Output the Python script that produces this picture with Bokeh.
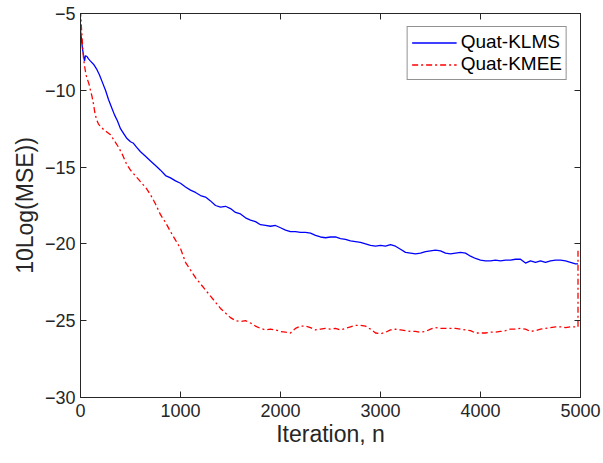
from bokeh.plotting import figure
from bokeh.models import LinearAxis, FixedTicker, Legend, LegendItem
from bokeh.embed import file_html
from bokeh.resources import INLINE

# ---- data ----
klms_n = [0, 10, 20, 30, 40, 50, 65, 80, 100, 130, 160, 190, 220, 250, 280, 310, 340, 370, 400,
          430, 460, 500, 530, 560, 600, 650, 700, 750, 800, 850, 900, 950, 1000, 1050, 1100, 1150,
          1200, 1250, 1300, 1350, 1400, 1450, 1500, 1550, 1600, 1650, 1700, 1750, 1800, 1850, 1900,
          1950, 2000, 2050, 2100, 2150, 2200, 2250, 2300, 2350, 2400, 2450, 2500, 2550, 2600, 2650,
          2700, 2750, 2800, 2850, 2900, 2950, 3000, 3050, 3100, 3150, 3200, 3250, 3300, 3350, 3400,
          3450, 3500, 3550, 3600, 3650, 3700, 3750, 3800, 3850, 3900, 3950, 4000, 4050, 4100, 4150,
          4200, 4250, 4300, 4350, 4400, 4450, 4500, 4550, 4600, 4650, 4700, 4750, 4800, 4850, 4900,
          4950, 4975]
klms_db = [-6.1, -6.7, -7.3, -7.7, -8.1, -7.75, -7.8, -7.95, -8.1, -8.3, -8.6, -9.0, -9.5, -10.0,
           -10.6, -11.1, -11.6, -12.0, -12.5, -12.8, -13.1, -13.35, -13.45, -13.7, -14.0, -14.3,
           -14.6, -14.9, -15.2, -15.55, -15.7, -15.9, -16.05, -16.3, -16.5, -16.65, -16.85, -16.95,
           -17.2, -17.5, -17.6, -17.55, -17.7, -17.95, -18.05, -18.3, -18.45, -18.55, -18.75, -18.8,
           -18.85, -18.8, -18.95, -19.1, -19.2, -19.2, -19.25, -19.25, -19.3, -19.45, -19.55, -19.6,
           -19.55, -19.55, -19.65, -19.7, -19.8, -19.85, -19.9, -20.0, -20.1, -20.15, -20.1, -20.15,
           -20.05, -20.15, -20.35, -20.55, -20.6, -20.65, -20.6, -20.5, -20.45, -20.4, -20.45, -20.6,
           -20.65, -20.6, -20.55, -20.6, -20.8, -20.95, -21.05, -21.1, -21.1, -21.05, -21.1, -21.05,
           -21.05, -21.0, -21.0, -21.25, -21.1, -21.2, -21.1, -21.2, -21.1, -21.05, -21.05, -21.1,
           -21.2, -21.3, -21.3]

kmee_n = [0, 10, 20, 30, 40, 55, 70, 85, 100, 115, 130, 145, 160, 180, 200, 230, 260, 300, 340,
          380, 420, 460, 500, 540, 580, 620, 660, 700, 750, 800, 850, 900, 950, 1000, 1050, 1100,
          1150, 1200, 1250, 1300, 1350, 1400, 1450, 1500, 1550, 1600, 1650, 1700, 1750, 1800, 1850,
          1900, 1950, 2000, 2050, 2100, 2150, 2200, 2250, 2300, 2350, 2400, 2450, 2500, 2550, 2600,
          2650, 2700, 2750, 2800, 2850, 2900, 2950, 3000, 3050, 3100, 3150, 3200, 3250, 3300, 3350,
          3400, 3450, 3500, 3550, 3600, 3650, 3700, 3750, 3800, 3850, 3900, 3950, 4000, 4050, 4100,
          4150, 4200, 4250, 4300, 4350, 4400, 4450, 4500, 4550, 4600, 4650, 4700, 4750, 4800, 4850,
          4900, 4950, 4975, 4975]
kmee_db = [-4.8, -6.0, -7.0, -7.9, -8.4, -9.0, -9.3, -9.6, -10.0, -10.4, -10.9, -11.5, -11.9, -12.2,
           -12.35, -12.55, -12.7, -12.9, -13.3, -13.7, -14.2, -14.8, -15.2, -15.5, -15.8, -16.1,
           -16.4, -16.8, -17.4, -18.1, -18.6, -19.2, -19.75, -20.3, -21.2, -21.7, -22.2, -22.6,
           -23.0, -23.4, -23.8, -24.2, -24.5, -24.8, -25.0, -25.05, -25.0, -25.15, -25.35, -25.5,
           -25.6, -25.55, -25.6, -25.7, -25.75, -25.8, -25.5, -25.35, -25.35, -25.45, -25.6, -25.55,
           -25.5, -25.55, -25.5, -25.6, -25.5, -25.4, -25.3, -25.3, -25.35, -25.55, -25.8, -25.85,
           -25.75, -25.6, -25.55, -25.6, -25.65, -25.7, -25.7, -25.75, -25.7, -25.55, -25.45, -25.5,
           -25.5, -25.5, -25.5, -25.55, -25.6, -25.65, -25.8, -25.8, -25.8, -25.75, -25.75, -25.7,
           -25.65, -25.55, -25.55, -25.5, -25.55, -25.7, -25.65, -25.55, -25.5, -25.45, -25.4,
           -25.4, -25.45, -25.4, -25.4, -25.4, -20.3]

x_ticks = [0, 1000, 2000, 3000, 4000, 5000]
y_ticks = [-30, -25, -20, -15, -10, -5]
series_labels = ["Quat-KLMS", "Quat-KMEE"]

FONT = "Liberation Sans"
TXT = "#262626"

p = figure(width=603, height=463, x_range=(0, 5000), y_range=(-30, -5),
           output_backend="svg", toolbar_location=None,
           min_border_left=80, min_border_right=23, min_border_top=13, min_border_bottom=66)
p.grid.visible = False
p.outline_line_color = TXT
p.outline_line_width = 1
p.background_fill_color = "white"
p.border_fill_color = "white"

r1 = p.line(klms_n, klms_db, line_color="#0000FF", line_width=1.3)
r2 = p.line(kmee_n, kmee_db, line_color="#FF0000", line_width=1.3, line_dash="6 3 2 3")

for ax, ticks in ((p.xaxis[0], x_ticks), (p.yaxis[0], y_ticks)):
    ax.ticker = FixedTicker(ticks=ticks)
    ax.major_tick_in = 6
    ax.major_tick_out = 0
    ax.minor_tick_line_color = None
    ax.axis_line_color = TXT
    ax.major_tick_line_color = TXT
    ax.major_label_text_font = FONT
    ax.major_label_text_font_size = "18px"
    ax.major_label_text_color = TXT
    ax.axis_label_text_font = FONT
    ax.axis_label_text_font_size = "23px"
    ax.axis_label_text_font_style = "normal"
    ax.axis_label_text_color = TXT

p.xaxis[0].axis_label = "Iteration, n"
p.yaxis[0].axis_label = "10Log(MSE))"
p.xaxis[0].major_label_standoff = 6
p.xaxis[0].axis_label_standoff = 1
p.yaxis[0].major_label_standoff = 5
p.yaxis[0].axis_label_standoff = 4

for loc, ticks in (("above", x_ticks), ("right", y_ticks)):
    ax = LinearAxis(ticker=FixedTicker(ticks=ticks))
    ax.major_tick_in = 6
    ax.major_tick_out = 0
    ax.minor_tick_line_color = None
    ax.axis_line_color = TXT
    ax.major_tick_line_color = TXT
    ax.major_label_overrides = {t: "" for t in ticks}
    ax.major_label_standoff = 0
    p.add_layout(ax, loc)

legend = Legend(items=[LegendItem(label=series_labels[0], renderers=[r1]),
                       LegendItem(label=series_labels[1], renderers=[r2])],
                location="top_right")
legend.label_text_font = FONT
legend.label_text_font_size = "19px"
legend.label_text_color = "black"
legend.border_line_color = TXT
legend.border_line_width = 1
legend.background_fill_color = "white"
legend.background_fill_alpha = 1
legend.glyph_width = 45
legend.glyph_height = 21
legend.label_height = 21
legend.label_standoff = 4
legend.spacing = 0
legend.padding = 4
legend.margin = 13
p.add_layout(legend, "center")

open("out.html", "w").write(file_html(p, INLINE))
